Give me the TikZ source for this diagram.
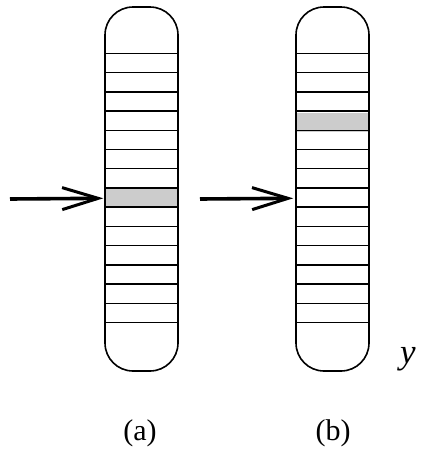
\documentclass[tikz,border=0pt]{standalone}
\usepackage{fontspec}
\setmainfont{Liberation Serif}
\usetikzlibrary{arrows.meta,positioning}
\begin{document}
\begin{tikzpicture}[x=1pt,y=-1pt,
    tube/.style={draw, line width=1.6pt, minimum width=73pt, minimum height=364pt, rounded corners=28pt, inner sep=0pt},
    band/.style={fill=black!20, minimum width=72pt, minimum height=19pt, inner sep=0pt},
    rung/.style={line width=1.5pt},
    arr/.style={-{Straight Barb[length=36pt,width=22pt,line width=3pt]}, line width=3.6pt},
    lbl/.style={font=\fontsize{30}{36}\selectfont, inner sep=0pt}
]
\useasboundingbox (0,0) rectangle (421,453);
\node[band] (bandA) at (141.5,198.3) {};
\node[band] (bandB) at (332.5,122.3) {};
\node[tube] (tubeA) at (141.5,189) {};
\node[tube] (tubeB) at (332.5,189) {};
\foreach \x in {105,296}
  \foreach \i in {0,...,14}
    \draw[rung] (\x,{53.3+19.24*\i}) -- ({\x+73},{53.3+19.24*\i});
\coordinate (startA) at (10,199);
\coordinate (startB) at (200,199);
\coordinate (hitB) at (tubeB.west |- bandA.west);
\draw[arr] (startA) -- ([xshift=-2pt]bandA.west);
\draw[arr] (startB) -- ([xshift=-2pt]hitB);
\node[lbl] (capA) at (140,433.5) {(a)};
\node[lbl] (capB) at (333,433.5) {(b)};
\node[lbl, font=\fontsize{35}{42}\selectfont] (ylab) at (408,359) {\textit{y}};
\end{tikzpicture}
\end{document}
